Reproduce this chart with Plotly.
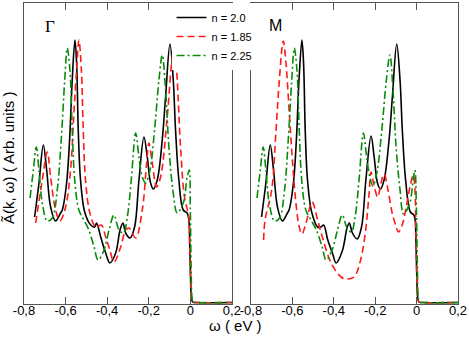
import plotly.graph_objects as go

# heights (arbitrary units, 0 = bottom of the frame)
tick_vals = [-0.8, -0.6, -0.4, -0.2, 0.0, 0.2]
tick_text = ["-0,8", "-0,6", "-0,4", "-0,2", "0", "0,2"]

# ---- Gamma point ----
g_w_20 = [-0.749, -0.728, -0.707, -0.691, -0.672, -0.648, -0.624, -0.616, -0.595, -0.580, -0.568, -0.555,
          -0.547, -0.539, -0.528, -0.508, -0.479, -0.460, -0.451, -0.431, -0.407, -0.387, -0.359, -0.338,
          -0.324, -0.311, -0.290, -0.268, -0.247, -0.223, -0.207, -0.191, -0.178, -0.159, -0.135, -0.119,
          -0.098, -0.082, -0.071, -0.055, -0.034, -0.015, -0.007, -0.003, 0.001, 0.005, 0.011, 0.03, 0.2]
g_a_20 = [87, 121, 159, 134, 97, 83, 91, 94, 121, 167, 224, 264,
          241, 174, 124, 92, 79, 77, 81, 67, 51, 41, 51, 74,
          81, 71, 66, 77, 124, 167, 147, 121, 115, 124, 164, 207,
          260, 224, 174, 124, 94, 91, 84, 62, 28, 7, 2, 1.5, 1.5]

g_w_185 = [-0.744, -0.712, -0.688, -0.672, -0.648, -0.627, -0.600, -0.576, -0.560, -0.547, -0.536, -0.524,
           -0.515, -0.504, -0.483, -0.455, -0.428, -0.407, -0.387, -0.367, -0.335, -0.311, -0.295, -0.263,
           -0.231, -0.210, -0.199, -0.183, -0.162, -0.143, -0.111, -0.087, -0.076, -0.063, -0.047, -0.028,
           -0.007, -0.003, 0.001, 0.005, 0.011, 0.03, 0.2]
g_a_185 = [81, 124, 152, 127, 94, 83, 97, 134, 191, 234, 264, 234,
           174, 124, 91, 77, 79, 67, 54, 42, 57, 74, 76, 66,
           94, 141, 161, 141, 117, 127, 187, 247, 259, 224, 157, 107,
           87, 62, 28, 7, 2, 1.5, 1.5]

g_w_225 = [-0.771, -0.755, -0.741, -0.728, -0.712, -0.688, -0.664, -0.640, -0.621, -0.604, -0.592, -0.579,
           -0.568, -0.556, -0.536, -0.512, -0.488, -0.463, -0.444, -0.415, -0.391, -0.367, -0.343, -0.322,
           -0.303, -0.284, -0.263, -0.247, -0.231, -0.215, -0.194, -0.172, -0.151, -0.135, -0.119, -0.103,
           -0.084, -0.063, -0.034, -0.015, -0.005, 0.0, 0.004, 0.008, 0.013, 0.03, 0.2]
g_a_225 = [106, 134, 157, 134, 101, 83, 86, 114, 164, 224, 256, 234,
           174, 124, 94, 84, 74, 57, 44, 54, 74, 89, 74, 71,
           87, 124, 171, 147, 127, 121, 134, 174, 224, 249, 214, 157,
           114, 91, 101, 127, 134, 95, 35, 7, 2, 1.5, 1.5]

# ---- M point ----
m_w_20 = [-0.749, -0.728, -0.707, -0.691, -0.672, -0.648, -0.624, -0.616, -0.595, -0.580, -0.568, -0.554,
          -0.546, -0.538, -0.527, -0.507, -0.478, -0.462, -0.449, -0.429, -0.405, -0.389, -0.359, -0.336,
          -0.325, -0.310, -0.287, -0.266, -0.245, -0.220, -0.205, -0.189, -0.175, -0.157, -0.133, -0.117,
          -0.096, -0.080, -0.069, -0.053, -0.030, -0.013, -0.007, -0.003, 0.001, 0.005, 0.011, 0.03, 0.2]
m_a_20 = [87, 121, 159, 134, 97, 83, 91, 94, 121, 167, 224, 264,
          241, 174, 124, 92, 77, 77, 79, 64, 50, 41, 53, 76,
          81, 71, 65, 77, 124, 168, 147, 121, 115, 124, 164, 207,
          260, 224, 174, 124, 92, 89, 84, 62, 28, 7, 2, 1.5, 1.5]

m_w_185 = [-0.739, -0.732, -0.700, -0.679, -0.663, -0.644, -0.631, -0.615, -0.599, -0.583, -0.567, -0.554,
           -0.534, -0.505, -0.478, -0.454, -0.413, -0.365, -0.341, -0.302, -0.273, -0.249, -0.230, -0.220,
           -0.206, -0.188, -0.172, -0.157, -0.138, -0.119, -0.100, -0.088, -0.071, -0.051, -0.032, -0.016,
           -0.008, -0.003, 0.001, 0.005, 0.011, 0.03, 0.2]
m_a_185 = [64, 84, 114, 174, 224, 263, 241, 191, 141, 101, 77, 70,
           81, 102, 84, 66, 41, 27, 25, 27, 42, 69, 109, 132,
           119, 107, 121, 130, 114, 92, 78, 72, 78, 96, 117, 129,
           114, 70, 28, 7, 2, 1.5, 1.5]

m_w_225 = [-0.771, -0.755, -0.741, -0.728, -0.712, -0.686, -0.662, -0.638, -0.620, -0.603, -0.591, -0.578,
           -0.567, -0.555, -0.535, -0.510, -0.484, -0.456, -0.437, -0.408, -0.382, -0.359, -0.336, -0.315,
           -0.297, -0.278, -0.257, -0.241, -0.226, -0.211, -0.190, -0.168, -0.146, -0.129, -0.114, -0.099,
           -0.080, -0.063, -0.033, -0.015, -0.008, -0.001, 0.004, 0.008, 0.013, 0.03, 0.2]
m_a_225 = [106, 134, 157, 134, 101, 83, 86, 114, 164, 224, 256, 234,
           174, 124, 94, 84, 74, 57, 44, 54, 74, 89, 76, 72,
           87, 124, 171, 147, 127, 118, 134, 174, 224, 249, 214, 157,
           114, 90, 101, 127, 134, 95, 35, 7, 2, 1.5, 1.5]

series = [
    ("n = 2.0", "black", "solid"),
    ("n = 1.85", "#ff1a1a", "7px,4px"),
    ("n = 2.25", "#0a8a0a", "8px,3px,2px,3px"),
]
gamma = [(g_w_20, g_a_20), (g_w_185, g_a_185), (g_w_225, g_a_225)]
m_pt = [(m_w_20, m_a_20), (m_w_185, m_a_185), (m_w_225, m_a_225)]

fig = go.Figure()
for (name, color, dash), (w, a) in zip(series, gamma):
    fig.add_trace(go.Scatter(x=w, y=a, mode="lines", name=name, xaxis="x", yaxis="y",
                             line=dict(color=color, width=1.6, dash=dash, shape="spline", smoothing=1.0)))
for (name, color, dash), (w, a) in zip(series, m_pt):
    fig.add_trace(go.Scatter(x=w, y=a, mode="lines", name=name, xaxis="x2", yaxis="y2", showlegend=False,
                             line=dict(color=color, width=1.6, dash=dash, shape="spline", smoothing=1.0)))

xax = dict(range=[-0.8, 0.2], tickvals=tick_vals, ticktext=tick_text, ticks="inside", ticklen=7,
           tickcolor="#555", showline=True, linecolor="#555", linewidth=1, mirror="ticks",
           ticklabelstandoff=-6, showgrid=False, zeroline=False, tickfont=dict(size=13, color="black"))
yax = dict(range=[0, 301], showticklabels=False, ticks="", showline=True, linecolor="#555",
           linewidth=1, mirror=True, showgrid=False, zeroline=False)

fig.update_layout(
    width=469, height=339,
    margin=dict(l=24, r=11, t=3, b=35, autoexpand=False),
    paper_bgcolor="white", plot_bgcolor="white",
    font=dict(family="Liberation Sans, Arial, sans-serif", color="black"),
    xaxis=dict(domain=[0, 0.479], anchor="y", **xax),
    xaxis2=dict(domain=[0.523, 1], anchor="y2", **xax),
    yaxis=dict(domain=[0, 1], anchor="x", **yax),
    yaxis2=dict(domain=[0, 1], anchor="x2", **yax),
    showlegend=True,
    legend=dict(x=0.34, y=1.0, xanchor="left", yanchor="top", bgcolor="white",
                borderwidth=0, font=dict(size=11)),
    annotations=[
        dict(text="Γ", xref="paper", yref="paper", x=0.043, y=0.96, showarrow=False,
             font=dict(family="Liberation Serif, serif", size=17)),
        dict(text="M", xref="paper", yref="paper", x=0.579, y=0.96, showarrow=False,
             font=dict(size=16)),
        dict(text="ω ( eV )", xref="paper", yref="paper", x=0.488, y=-0.073, showarrow=False,
             font=dict(size=15), yanchor="middle"),
        dict(text="Ã(k, ω) ( Arb. units )", xref="paper", yref="paper", x=-0.037, y=0.488,
             textangle=-90, showarrow=False, font=dict(size=15), xanchor="center"),
    ],
)

# the page body has a default 8px margin; drop it so the figure sits at the window corner
fig.write_html("out.html", config={"displayModeBar": False},
               post_script="document.body.style.margin='0';")
